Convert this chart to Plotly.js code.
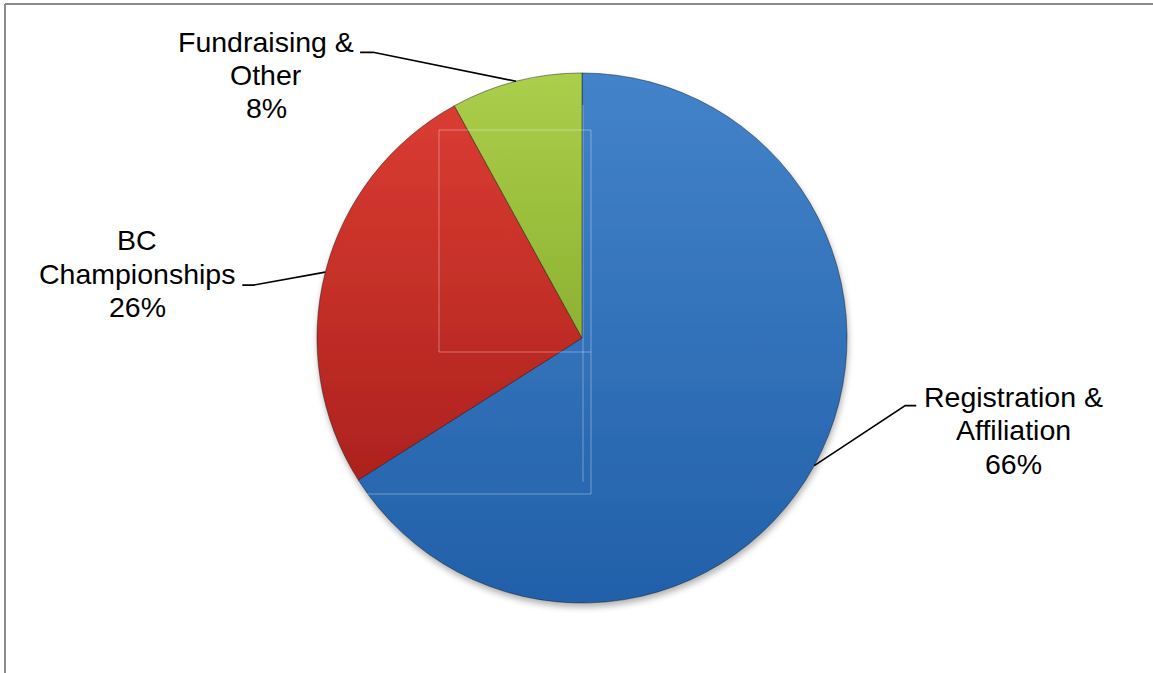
<!DOCTYPE html>
<html>
<head>
<meta charset="utf-8">
<script src="https://cdn.plot.ly/plotly-3.0.1.min.js"></script>
<style>
  html, body { margin: 0; padding: 0; background: #ffffff; }
  #chart { width: 1153px; height: 673px; }
</style>
</head>
<body>
<div id="chart"></div>
<script>
// ---- data ----
const categories = ["Registration & Affiliation", "BC Championships", "Fundraising & Other"];
const labelLines = [["Registration &", "Affiliation"], ["BC", "Championships"], ["Fundraising &", "Other"]];
const values = [66, 26, 8];

// ---- style ----
const W = 1153, H = 673;
const sliceColors = ["#2f6db8", "#c42d27", "#9cc23d"];
const gradStops = [["#4383c9", "#2260aa"], ["#da3c32", "#ad221e"], ["#abcf4a", "#8db233"]];
const fontFamily = "'Liberation Sans', Arial, sans-serif";
const fontSize = 28.5;
// label placement relative to the slice's edge anchor (pixels)
const labelStyle = [
  { elbow: [91, -60], end: [102, -60], text: [199, -69], gap: 33.5 },
  { elbow: [-72, 13], end: [-83, 13], text: [-188, -32], gap: 33.7 },
  { elbow: [-143, -29], end: [-156, -29], text: [-250, -39.3], gap: 33 }
];
const pieDomain = { x: [317 / W, 847 / W], y: [70 / H, 600 / H] };

const px2x = p => p / W;
const py2y = p => 1 - p / H;

// pie geometry derived from the domain (same rule Plotly uses)
const cx = (pieDomain.x[0] + pieDomain.x[1]) / 2 * W;
const cy = (1 - (pieDomain.y[0] + pieDomain.y[1]) / 2) * H;
const r = Math.min((pieDomain.x[1] - pieDomain.x[0]) * W, (pieDomain.y[1] - pieDomain.y[0]) * H) / 2;

const total = values.reduce((a, b) => a + b, 0);
let cum = 0;
const anchors = values.map(v => {
  const mid = (cum + v / 2) / total;
  cum += v;
  const th = mid * 2 * Math.PI; // clockwise from 12 o'clock
  return [cx + r * Math.sin(th), cy - r * Math.cos(th)];
});

const shapes = [];
const annotations = [];
anchors.forEach((a, i) => {
  const s = labelStyle[i];
  const e = [a[0] + s.elbow[0], a[1] + s.elbow[1]];
  const f = [a[0] + s.end[0], a[1] + s.end[1]];
  shapes.push({
    type: "path", xref: "paper", yref: "paper",
    path: `M ${px2x(a[0])} ${py2y(a[1])} L ${px2x(e[0])} ${py2y(e[1])} L ${px2x(f[0])} ${py2y(f[1])}`,
    line: { color: "#000000", width: 1.6 }
  });
  const lines = labelLines[i].concat([Math.round(values[i] / total * 100) + "%"]);
  lines.forEach((t, k) => {
    annotations.push({
      xref: "paper", yref: "paper",
      x: px2x(a[0] + s.text[0]), y: py2y(a[1] + s.text[1] + k * s.gap),
      xanchor: "center", yanchor: "middle",
      text: t, showarrow: false,
      font: { family: fontFamily, size: fontSize, color: "#000000" }
    });
  });
});

// frame lines (top and left)
shapes.push({ type: "line", xref: "paper", yref: "paper", x0: px2x(5), x1: 1, y0: py2y(4), y1: py2y(4), line: { color: "#8c8c8c", width: 2 } });
shapes.push({ type: "line", xref: "paper", yref: "paper", x0: px2x(5), x1: px2x(5), y0: py2y(4), y1: 0, line: { color: "#8c8c8c", width: 2 } });

// faint guide-box artefacts over the pie
const faint = { color: "rgba(255,255,255,0.35)", width: 1 };
shapes.push({ type: "rect", xref: "paper", yref: "paper", x0: px2x(439), x1: px2x(591), y0: py2y(130), y1: py2y(352), line: faint, layer: "above" });
shapes.push({ type: "line", xref: "paper", yref: "paper", x0: px2x(583), x1: px2x(583), y0: py2y(105), y1: py2y(482), line: faint, layer: "above" });
shapes.push({ type: "line", xref: "paper", yref: "paper", x0: px2x(360), x1: px2x(591), y0: py2y(494), y1: py2y(494), line: faint, layer: "above" });
shapes.push({ type: "line", xref: "paper", yref: "paper", x0: px2x(591), x1: px2x(591), y0: py2y(352), y1: py2y(494), line: faint, layer: "above" });

const data = [{
  type: "pie",
  labels: categories,
  values: values,
  sort: false,
  direction: "clockwise",
  rotation: 0,
  textinfo: "none",
  hoverinfo: "label+percent",
  domain: pieDomain,
  marker: { colors: sliceColors, line: { color: "rgba(20,20,20,0.45)", width: 1 } }
}];

const layout = {
  width: W, height: H,
  margin: { l: 0, r: 0, t: 0, b: 0 },
  paper_bgcolor: "#ffffff",
  showlegend: false,
  shapes: shapes,
  annotations: annotations
};

Plotly.newPlot("chart", data, layout, { staticPlot: true, displayModeBar: false }).then(gd => {
  const ns = "http://www.w3.org/2000/svg";
  const svg = gd.querySelector("svg.main-svg");
  let defs = svg.querySelector("defs");
  if (!defs) { defs = document.createElementNS(ns, "defs"); svg.insertBefore(defs, svg.firstChild); }
  gradStops.forEach((st, i) => {
    const g = document.createElementNS(ns, "linearGradient");
    g.setAttribute("id", "sliceGrad" + i);
    g.setAttribute("x1", "0"); g.setAttribute("y1", "0");
    g.setAttribute("x2", "0"); g.setAttribute("y2", "1");
    [[0, st[0]], [1, st[1]]].forEach(([o, c]) => {
      const s = document.createElementNS(ns, "stop");
      s.setAttribute("offset", o); s.setAttribute("stop-color", c);
      g.appendChild(s);
    });
    defs.appendChild(g);
  });
  const f = document.createElementNS(ns, "filter");
  f.setAttribute("id", "pieShadow");
  f.setAttribute("x", "-10%"); f.setAttribute("y", "-10%");
  f.setAttribute("width", "120%"); f.setAttribute("height", "125%");
  const ds = document.createElementNS(ns, "feDropShadow");
  ds.setAttribute("dx", "1"); ds.setAttribute("dy", "4");
  ds.setAttribute("stdDeviation", "3"); ds.setAttribute("flood-color", "#000");
  ds.setAttribute("flood-opacity", "0.3");
  f.appendChild(ds);
  defs.appendChild(f);
  gd.querySelectorAll("g.slice").forEach(sl => {
    const d = sl.__data__;
    const idx = d && d.i !== undefined ? d.i : 0;
    const p = sl.querySelector("path.surface");
    if (p) p.style.fill = "url(#sliceGrad" + idx + ")";
  });
  const tr = gd.querySelector(".pielayer g.trace");
  if (tr) tr.setAttribute("filter", "url(#pieShadow)");
});
</script>
</body>
</html>
